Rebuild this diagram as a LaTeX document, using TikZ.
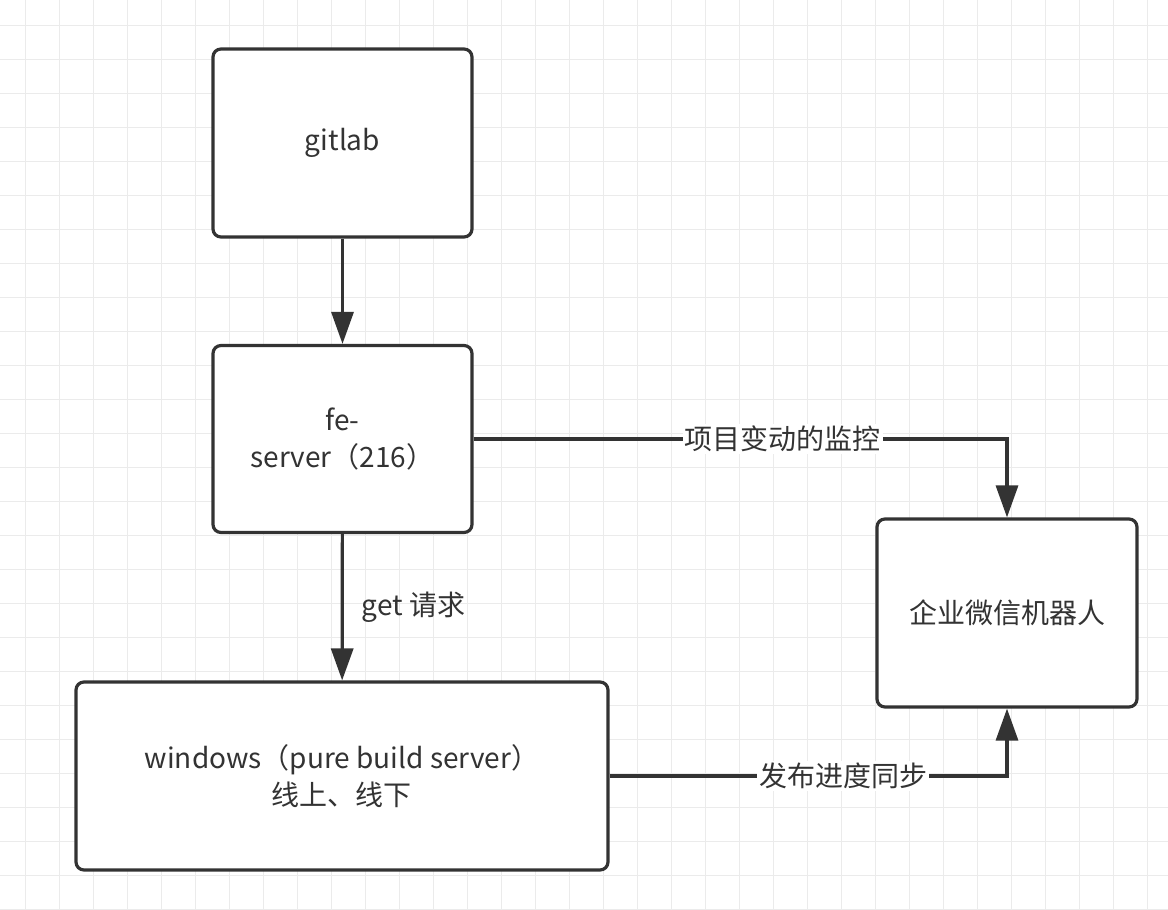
\documentclass[tikz,border=0pt]{standalone}
\usepackage{fontspec}
\setmainfont{Noto Sans CJK SC}
\usetikzlibrary{arrows.meta}

\definecolor{ink}{HTML}{333333}
\definecolor{gridgray}{HTML}{EBEBEB}

\begin{document}
\begin{tikzpicture}[x=0.5pt,y=-0.5pt]
    \tikzstyle{gridline}=[draw,line width=.5pt,gridgray]
    \tikzstyle{block}=[draw=ink,line width=1.6pt,rounded corners=4pt,fill=white,text=ink,align=center,font=\fontsize{14}{18.5}\selectfont]
    \tikzstyle{edge}=[draw=ink,line width=1.6pt,-{Triangle[length=16pt,width=11pt]}]
    \tikzstyle{tag}=[fill=white,text=ink,inner sep=1pt,font=\fontsize{14}{18.5}\selectfont]
    \fill[white] (0,0) rectangle (1168,910);
    \useasboundingbox (0,0) rectangle (1168,910);
    \foreach \g in {25,59,...,1168} \draw[gridline] (\g,0) -- (\g,910);
    \foreach \g in {25,59,...,910} \draw[gridline] (0,\g) -- (1168,\g);
    \node[block,minimum width=129.5pt,minimum height=94pt] (gitlab) at (342.5,143) {gitlab};
    \node[block,minimum width=129.5pt,minimum height=93.5pt] (fe) at (342.5,439) {fe-\\server（216）};
    \node[block,minimum width=266pt,minimum height=94pt] (win) at (342,776) {windows（pure build server）\\线上、线下};
    \node[block,minimum width=130pt,minimum height=94pt] (robot) at (1007,613) {企业微信机器人};
    \draw[edge] (gitlab) -- (fe);
    \draw[edge] (fe) -- node[tag,fill=none,midway,right=8pt] {get 请求} (win);
    \draw[edge] (fe.east) -| node[tag,pos=0.29] {项目变动的监控} (robot.north);
    \draw[edge] (win.east) -| node[tag,pos=0.294] {发布进度同步} (robot.south);
\end{tikzpicture}
\end{document}
